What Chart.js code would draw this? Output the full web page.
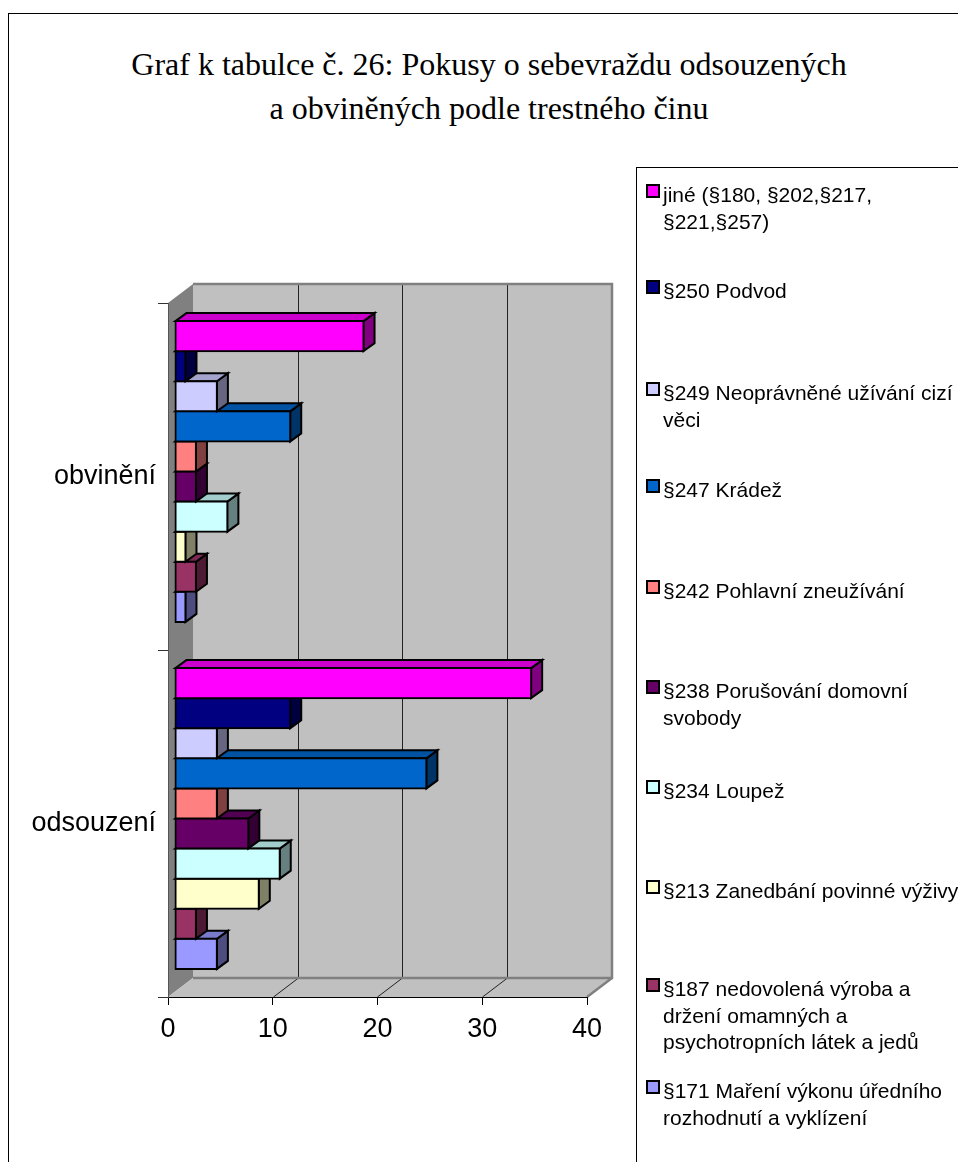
<!DOCTYPE html>
<html>
<head>
<meta charset="utf-8">
<title>Graf k tabulce č. 26</title>
<script src="https://cdn.jsdelivr.net/npm/chart.js@4"></script>
<style>
  html, body { margin: 0; padding: 0; background: #fff; overflow: hidden; }
  #page { position: relative; width: 958px; height: 1162px; overflow: hidden; }
  #frame { position: absolute; left: 8px; top: 13px; width: 1000px; height: 1200px; border: 1px solid #000; }
  #title { position: absolute; left: 89px; top: 42px; width: 800px; text-align: center;
           font: 32px/44px "Liberation Serif", serif; color: #000; }
  #legendBox { position: absolute; left: 636px; top: 167px; width: 400px; height: 1100px; border: 1px solid #000; background: #fff; }
  .key { position: absolute; left: 646px; width: 10px; height: 10px; border: 2px solid #000; }
  .keyText { position: absolute; left: 663px; font: 21px/26.6px "Liberation Sans", sans-serif; color: #000; white-space: pre; }
  canvas { position: absolute; left: 0; top: 0; }
</style>
</head>
<body>
<div id="page">
  <div id="frame"></div>
  <div id="title">Graf k tabulce č. 26: Pokusy o sebevraždu odsouzených<br>a obviněných podle trestného činu</div>
  <div id="legendBox"></div>
  <canvas id="chart" width="958" height="1162"></canvas>
</div>
<script>
// Data
const categories = ['obvinění', 'odsouzení'];
const xTicks = [0, 10, 20, 30, 40];

const jine = [18, 34];
const podvod = [1, 11];
const uzivani = [4, 4];
const kradez = [11, 24];
const zneuzivani = [2, 4];
const svoboda = [2, 7];
const loupez = [5, 10];
const vyziva = [1, 8];
const omamne = [2, 2];
const mareni = [1, 4];

const seriesValues = [jine, podvod, uzivani, kradez, zneuzivani, svoboda, loupez, vyziva, omamne, mareni];
const seriesNames = [
  'jiné (§180, §202,§217,\n§221,§257)',
  '§250 Podvod',
  '§249 Neoprávněné užívání cizí\nvěci',
  '§247 Krádež',
  '§242 Pohlavní zneužívání',
  '§238 Porušování domovní\nsvobody',
  '§234 Loupež',
  '§213 Zanedbání povinné výživy',
  '§187 nedovolená výroba a\ndržení omamných a\npsychotropních látek a jedů',
  '§171 Maření výkonu úředního\nrozhodnutí a vyklízení'
];
const seriesColors = ['#FF00FF', '#000080', '#CCCCFF', '#0066CC', '#FF8080', '#660066', '#CCFFFF', '#FFFFCC', '#993366', '#9999FF'];

// Layout of the page
const legendTops = [182, 278, 380, 477, 578, 678, 778, 878, 976, 1078];
const wallDepth = { x: 25, y: -19 };   // back wall against the front plane
const barShift = { x: 7, y: -5 };      // bars stand inside the box
const barDepth = { x: 11, y: -8 };

// Legend built by hand because the entries wrap and are spread out
const page = document.getElementById('page');
seriesNames.forEach((name, i) => {
  const key = document.createElement('div');
  key.className = 'key';
  key.style.top = (legendTops[i] + 2) + 'px';
  key.style.background = seriesColors[i];
  page.appendChild(key);
  const text = document.createElement('div');
  text.className = 'keyText';
  text.style.top = legendTops[i] + 'px';
  text.textContent = name;
  page.appendChild(text);
});

// Darken a hex colour for the bar's top and side faces
function shade(hex, factor) {
  const n = parseInt(hex.slice(1), 16);
  const r = Math.round((n >> 16 & 255) * factor);
  const g = Math.round((n >> 8 & 255) * factor);
  const b = Math.round((n & 255) * factor);
  return `rgb(${r}, ${g}, ${b})`;
}

function polygon(ctx, points, fill, stroke, lineWidth) {
  ctx.beginPath();
  points.forEach((p, i) => (i ? ctx.lineTo(p[0], p[1]) : ctx.moveTo(p[0], p[1])));
  ctx.closePath();
  if (fill) {
    ctx.fillStyle = fill;
    ctx.fill();
  }
  if (stroke) {
    ctx.strokeStyle = stroke;
    ctx.lineWidth = lineWidth;
    ctx.stroke();
  }
}

// Draws the walls and floor of the 3D box behind the scales
const boxPlugin = {
  id: 'box',
  beforeDraw(chart) {
    const { ctx, chartArea: a, scales } = chart;
    const dx = wallDepth.x;
    const dy = wallDepth.y;
    ctx.save();
    polygon(ctx, [[a.left, a.top], [a.left + dx, a.top + dy], [a.left + dx, a.bottom + dy], [a.left, a.bottom]], '#808080');
    polygon(ctx, [[a.left, a.bottom], [a.left + dx, a.bottom + dy], [a.right + dx, a.bottom + dy], [a.right, a.bottom]], '#C0C0C0');
    ctx.fillStyle = '#C0C0C0';
    ctx.fillRect(a.left + dx, a.top + dy, a.right - a.left, a.bottom - a.top);

    // grid lines run across the floor and up the back wall
    ctx.strokeStyle = '#222';
    ctx.lineWidth = 1;
    xTicks.slice(1, -1).forEach((v) => {
      const x = Math.floor(scales.x.getPixelForValue(v) + 0.4) + 0.5;
      ctx.beginPath();
      ctx.moveTo(x, a.bottom);
      ctx.lineTo(x + dx, a.bottom + dy);
      ctx.lineTo(x + dx, a.top + dy);
      ctx.stroke();
    });

    // grey outer edges of the box
    ctx.strokeStyle = '#808080';
    ctx.lineWidth = 2.5;
    ctx.beginPath();
    ctx.moveTo(a.left + dx, a.top + dy);
    ctx.lineTo(a.right + dx, a.top + dy);
    ctx.lineTo(a.right + dx, a.bottom + dy);
    ctx.lineTo(a.left + dx, a.bottom + dy);
    ctx.moveTo(a.right + dx, a.bottom + dy);
    ctx.lineTo(a.right, a.bottom);
    ctx.stroke();
    ctx.restore();
  },
  // Side and top faces go first, the library then paints the front of the bar
  beforeDatasetDraw(chart, args) {
    const { ctx } = chart;
    const color = seriesColors[args.index];
    const dx = barDepth.x;
    const dy = barDepth.y;
    ctx.save();
    ctx.translate(barShift.x, barShift.y);
    args.meta.data.forEach((bar) => {
      const top = bar.y - bar.height / 2;
      const bottom = bar.y + bar.height / 2;
      polygon(ctx, [[bar.x, top], [bar.x + dx, top + dy], [bar.x + dx, bottom + dy], [bar.x, bottom]], shade(color, 0.5), '#000', 2);
      polygon(ctx, [[bar.base, top], [bar.base + dx, top + dy], [bar.x + dx, top + dy], [bar.x, top]], shade(color, 0.8), '#000', 2);
    });
  },
  afterDatasetDraw(chart) {
    chart.ctx.restore();
  }
};

const axisFont = { family: '"Liberation Sans", sans-serif', size: 27 };

new Chart(document.getElementById('chart'), {
  type: 'bar',
  data: {
    labels: categories,
    datasets: seriesNames.map((name, i) => ({
      label: name,
      data: seriesValues[i],
      backgroundColor: seriesColors[i],
      borderColor: '#000',
      borderWidth: 2,
      borderSkipped: false,
      inflateAmount: 1,
      clip: false,
      categoryPercentage: 0.867,
      barPercentage: 1
    }))
  },
  options: {
    indexAxis: 'y',
    responsive: false,
    animation: false,
    layout: { padding: { top: 303, right: 371, left: 0, bottom: 0 } },
    plugins: { legend: { display: false }, title: { display: false }, tooltip: { enabled: false } },
    scales: {
      x: {
        min: 0,
        max: 40,
        afterFit: (scale) => { scale.height = 165; },
        afterBuildTicks: (scale) => { scale.ticks = xTicks.map((v) => ({ value: v })); },
        grid: { drawOnChartArea: false, color: '#000', tickLength: 8 },
        border: { color: '#000', width: 1 },
        ticks: { color: '#000', font: axisFont, maxRotation: 0, padding: 8 }
      },
      y: {
        afterFit: (scale) => { scale.width = 168; },
        grid: { drawOnChartArea: false, color: '#333', tickLength: 10 },
        border: { color: '#555', width: 1 },
        ticks: { color: '#000', font: axisFont, padding: 2 }
      }
    }
  },
  plugins: [boxPlugin]
});
</script>
</body>
</html>
